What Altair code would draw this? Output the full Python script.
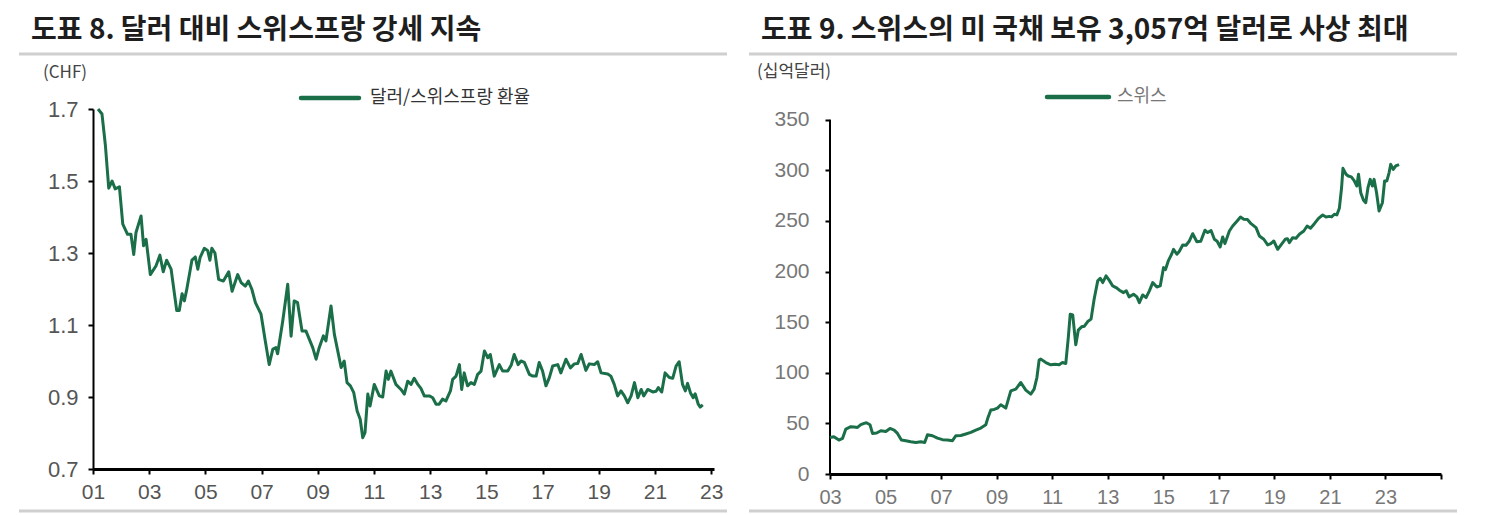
import altair as alt
import pandas as pd

# ---------------- data ----------------
chf_year = [2001.18, 2001.32, 2001.44, 2001.56, 2001.68, 2001.79, 2001.94, 2002.06, 2002.23, 2002.35,
            2002.45, 2002.53, 2002.71, 2002.80, 2002.89, 2003.04, 2003.24, 2003.38, 2003.50, 2003.62,
            2003.78, 2003.98, 2004.07, 2004.17, 2004.25, 2004.33, 2004.52, 2004.64, 2004.73, 2004.81,
            2004.96, 2005.08, 2005.16, 2005.23, 2005.34, 2005.47, 2005.64, 2005.83, 2005.95, 2006.15,
            2006.27, 2006.42, 2006.53, 2006.65, 2006.78, 2006.98, 2007.13, 2007.27, 2007.40, 2007.51,
            2007.57, 2007.75, 2007.93, 2008.05, 2008.16, 2008.28, 2008.44, 2008.58, 2008.70, 2008.82,
            2008.94, 2009.05, 2009.20, 2009.29, 2009.47, 2009.59, 2009.71, 2009.83, 2009.94, 2010.04,
            2010.16, 2010.28, 2010.40, 2010.51, 2010.60, 2010.68, 2010.78, 2010.86, 2011.01, 2011.19,
            2011.31, 2011.43, 2011.51, 2011.60, 2011.78, 2011.96, 2012.08, 2012.20, 2012.32, 2012.43,
            2012.56, 2012.67, 2012.79, 2012.97, 2013.09, 2013.21, 2013.32, 2013.44, 2013.56, 2013.72,
            2013.80, 2013.92, 2014.04, 2014.12, 2014.21, 2014.33, 2014.45, 2014.57, 2014.69, 2014.81,
            2014.93, 2015.05, 2015.14, 2015.28, 2015.46, 2015.58, 2015.76, 2015.88, 2015.99, 2016.13,
            2016.23, 2016.35, 2016.53, 2016.65, 2016.77, 2016.88, 2017.00, 2017.12, 2017.24, 2017.36,
            2017.54, 2017.65, 2017.83, 2017.99, 2018.13, 2018.25, 2018.37, 2018.48, 2018.54, 2018.66,
            2018.84, 2018.96, 2019.08, 2019.32, 2019.43, 2019.55, 2019.67, 2019.79, 2019.91, 2020.03,
            2020.15, 2020.27, 2020.39, 2020.51, 2020.60, 2020.74, 2020.92, 2021.04, 2021.12, 2021.24,
            2021.36, 2021.51, 2021.63, 2021.75, 2021.86, 2021.98, 2022.08, 2022.16, 2022.26, 2022.36,
            2022.43, 2022.54, 2022.61, 2022.70]
chf_rate = [1.700, 1.686, 1.600, 1.480, 1.500, 1.478, 1.484, 1.380, 1.352, 1.352,
            1.296, 1.357, 1.403, 1.320, 1.338, 1.240, 1.264, 1.294, 1.248, 1.280,
            1.255, 1.140, 1.140, 1.187, 1.167, 1.196, 1.280, 1.289, 1.255, 1.287,
            1.313, 1.307, 1.280, 1.313, 1.300, 1.227, 1.222, 1.248, 1.194, 1.240,
            1.218, 1.208, 1.222, 1.200, 1.162, 1.130, 1.056, 0.990, 1.033, 1.037,
            1.020, 1.110, 1.213, 1.069, 1.167, 1.162, 1.083, 1.083, 1.060, 1.037,
            1.005, 1.037, 1.070, 1.056, 1.153, 1.074, 1.028, 0.982, 1.000, 0.940,
            0.931, 0.912, 0.861, 0.838, 0.787, 0.801, 0.908, 0.875, 0.935, 0.903,
            0.900, 0.972, 0.949, 0.972, 0.935, 0.921, 0.908, 0.944, 0.935, 0.952,
            0.935, 0.924, 0.903, 0.903, 0.898, 0.880, 0.880, 0.894, 0.889, 0.917,
            0.949, 0.958, 0.990, 0.921, 0.967, 0.931, 0.940, 0.935, 0.963, 0.972,
            1.028, 1.009, 1.018, 0.958, 0.990, 0.972, 0.972, 0.988, 1.018, 0.990,
            1.000, 0.996, 0.963, 0.958, 0.958, 0.996, 0.972, 0.931, 0.954, 0.986,
            0.990, 0.967, 1.005, 0.981, 0.992, 0.993, 1.018, 0.990, 0.974, 0.992,
            0.990, 0.998, 0.967, 0.964, 0.958, 0.935, 0.903, 0.917, 0.903, 0.884,
            0.903, 0.940, 0.898, 0.921, 0.903, 0.921, 0.914, 0.916, 0.926, 0.914,
            0.967, 0.954, 0.952, 0.986, 0.998, 0.935, 0.917, 0.938, 0.912, 0.898,
            0.909, 0.880, 0.872, 0.878]

ust_year = [2003.00, 2003.14, 2003.32, 2003.45, 2003.57, 2003.75, 2003.87, 2003.99, 2004.11, 2004.23,
            2004.31, 2004.44, 2004.53, 2004.68, 2004.83, 2005.01, 2005.16, 2005.31, 2005.43, 2005.57,
            2005.73, 2005.91, 2006.09, 2006.27, 2006.41, 2006.51, 2006.69, 2006.87, 2007.05, 2007.23,
            2007.41, 2007.53, 2007.71, 2007.89, 2008.07, 2008.25, 2008.43, 2008.61, 2008.69, 2008.79,
            2008.91, 2009.03, 2009.15, 2009.33, 2009.51, 2009.69, 2009.87, 2010.05, 2010.23, 2010.35,
            2010.45, 2010.53, 2010.59, 2010.77, 2010.95, 2011.10, 2011.25, 2011.37, 2011.49, 2011.58,
            2011.65, 2011.74, 2011.85, 2011.94, 2012.06, 2012.16, 2012.28, 2012.40, 2012.51, 2012.64,
            2012.73, 2012.82, 2012.94, 2013.05, 2013.18, 2013.30, 2013.42, 2013.57, 2013.67, 2013.77,
            2013.93, 2014.05, 2014.14, 2014.26, 2014.38, 2014.50, 2014.62, 2014.77, 2014.89, 2015.01,
            2015.08, 2015.18, 2015.30, 2015.37, 2015.49, 2015.58, 2015.70, 2015.82, 2015.94, 2016.06,
            2016.21, 2016.35, 2016.50, 2016.60, 2016.72, 2016.84, 2016.94, 2017.05, 2017.14, 2017.22,
            2017.38, 2017.50, 2017.66, 2017.78, 2017.90, 2018.03, 2018.16, 2018.34, 2018.46, 2018.62,
            2018.76, 2018.87, 2018.98, 2019.12, 2019.24, 2019.39, 2019.47, 2019.54, 2019.66, 2019.78,
            2019.90, 2020.06, 2020.18, 2020.30, 2020.44, 2020.59, 2020.74, 2020.86, 2020.98, 2021.06,
            2021.16, 2021.25, 2021.34, 2021.42, 2021.47, 2021.58, 2021.66, 2021.77, 2021.88, 2021.97,
            2022.03, 2022.11, 2022.21, 2022.29, 2022.37, 2022.45, 2022.53, 2022.59, 2022.68, 2022.77,
            2022.89, 2022.97, 2023.05, 2023.13, 2023.19, 2023.28, 2023.37, 2023.49]
ust_hold = [36.1, 36.8, 33.5, 35.1, 44.4, 46.7, 46.5, 46.0, 48.7, 50.0,
            50.6, 48.7, 40.1, 40.5, 42.7, 42.0, 45.0, 43.4, 40.1, 33.5,
            32.9, 31.9, 31.2, 31.8, 31.2, 38.8, 37.8, 35.5, 33.9, 33.5,
            32.9, 37.8, 38.0, 39.5, 41.1, 43.4, 45.4, 48.7, 55.9, 63.2,
            63.8, 65.1, 68.4, 65.1, 82.2, 83.9, 90.4, 82.9, 78.9, 83.9,
            95.3, 112.5, 113.5, 110.1, 107.9, 108.5, 107.9, 110.1, 109.2, 134.8,
            157.9, 157.2, 127.6, 142.1, 145.4, 146.0, 150.6, 153.0, 172.7, 190.8,
            193.4, 189.1, 195.7, 191.5, 185.8, 184.2, 181.6, 179.2, 181.0, 175.0,
            177.6, 175.0, 169.3, 176.9, 174.3, 180.9, 189.1, 184.8, 185.8, 203.9,
            202.0, 210.5, 217.1, 222.0, 217.1, 220.0, 226.3, 226.0, 230.2, 237.4,
            229.5, 230.0, 240.8, 238.5, 240.5, 231.9, 230.0, 224.3, 234.2, 227.6,
            240.1, 245.0, 250.0, 253.9, 251.7, 251.5, 247.3, 243.4, 235.2, 231.9,
            226.3, 227.5, 230.2, 222.0, 226.3, 231.9, 232.5, 228.6, 233.5, 233.0,
            236.8, 240.1, 245.0, 242.8, 247.3, 252.6, 255.9, 253.9, 254.5, 254.0,
            256.6, 256.0, 262.5, 282.8, 302.0, 296.1, 294.4, 293.5, 289.5, 284.5,
            296.1, 277.9, 270.4, 268.0, 282.8, 291.1, 284.5, 291.1, 277.9, 259.8,
            268.0, 289.5, 289.5, 297.6, 305.9, 301.0, 304.3, 305.7]

title_left = "도표 8. 달러 대비 스위스프랑 강세 지속"
title_right = "도표 9. 스위스의 미 국채 보유 3,057억 달러로 사상 최대"
unit_left = "(CHF)"
unit_right = "(십억달러)"
legend_left = "달러/스위스프랑 환율"
legend_right = "스위스"
left_ticks_y = [0.7, 0.9, 1.1, 1.3, 1.5, 1.7]
right_ticks_y = [0, 50, 100, 150, 200, 250, 300, 350]
left_ticks_x = list(range(2001, 2024, 2))
right_ticks_x = list(range(2003, 2026, 2))

# ---------------- style ----------------
GREEN = "#1b6f48"
KR = "Noto Sans CJK KR"
NUM = "Liberation Sans Narrow, Liberation Sans, Arial"

df_l = pd.DataFrame({"year": chf_year, "value": chf_rate})
df_r = pd.DataFrame({"year": ust_year, "value": ust_hold})
one = pd.DataFrame({"a": [0]})


def text(s, x, y, size, color, weight="normal", font=KR):
    return alt.Chart(one).mark_text(
        text=s, align="left", baseline="middle", font=font, fontSize=size,
        color=color, fontWeight=weight
    ).encode(x=alt.value(x), y=alt.value(y))


def hrule(x1, x2, y, color, width, cap="butt"):
    return alt.Chart(one).mark_rule(color=color, strokeWidth=width, strokeCap=cap).encode(
        x=alt.value(x1), x2=alt.value(x2), y=alt.value(y)
    )


# ---------------- left panel ----------------
LW, LH = 621, 360
x_axis_l = alt.Axis(values=left_ticks_x, labelExpr="substring(toString(datum.value), 2)",
                    labelFlush=False, labelOverlap=False,
                    domainColor="black", domainWidth=3, tickColor="black", tickWidth=2,
                    tickSize=5, labelPadding=7, labelFontSize=21, labelColor="#555",
                    labelFont=NUM, grid=False, title=None)
y_axis_l = alt.Axis(values=left_ticks_y, format=".1f", domainColor="black", domainWidth=2,
                    labelFlush=False, labelOverlap=False,
                    tickColor="black", tickWidth=2, tickSize=5, labelPadding=10,
                    labelFontSize=22, labelColor="#555", labelFont=NUM, grid=False, title=None)

line_l = alt.Chart(df_l).mark_line(color=GREEN, strokeWidth=3, strokeJoin="round").encode(
    x=alt.X("year:Q", scale=alt.Scale(domain=[2001, 2023.1], nice=False, zero=False), axis=x_axis_l),
    y=alt.Y("value:Q", scale=alt.Scale(domain=[0.7, 1.7], nice=False, zero=False), axis=y_axis_l),
)

left = alt.layer(
    hrule(-84, -83, -100, "white", 1),
    hrule(-74, 634, -55, "#cfcfcf", 3),
    hrule(-74, 634, 402, "#cfcfcf", 3),
    text(title_left, -62, -78, 28, "#1e1e1e", "bold"),
    text(unit_left, -50, -36, 17, "#444"),
    hrule(208, 266, -11, GREEN, 4.5, "round"),
    text(legend_left, 277, -11, 18, "#333"),
    line_l,
).properties(width=LW, height=LH)

# ---------------- right panel ----------------
RW, RH = 611, 365
x_axis_r = alt.Axis(values=right_ticks_x,
                    labelExpr="datum.value == 2025 ? '' : substring(toString(datum.value), 2)",
                    labelFlush=False, labelOverlap=False,
                    domainColor="black", domainWidth=3, tickColor="black", tickWidth=2,
                    tickSize=5, labelPadding=8, labelFontSize=20, labelColor="#777",
                    labelFont=NUM, grid=False, title=None)
y_axis_r = alt.Axis(values=right_ticks_y, domain=False, tickColor="black", tickWidth=2,
                    labelFlush=False, labelOverlap=False,
                    tickSize=5, labelPadding=16, labelFontSize=21, labelColor="#777",
                    labelFont=NUM, grid=False, title=None)

yscale_r = alt.Scale(domain=[0, 360.6], nice=False, zero=True)
line_r = alt.Chart(df_r).mark_line(color=GREEN, strokeWidth=3, strokeJoin="round").encode(
    x=alt.X("year:Q", scale=alt.Scale(domain=[2003, 2025], nice=False, zero=False), axis=x_axis_r),
    y=alt.Y("value:Q", scale=yscale_r, axis=y_axis_r),
)
yline_r = alt.Chart(pd.DataFrame({"y1": [0], "y2": [350]})).mark_rule(
    color="black", strokeWidth=2).encode(
    x=alt.value(0), y=alt.Y("y1:Q", scale=yscale_r), y2="y2:Q")

right = alt.layer(
    hrule(-81, 627, -55, "#cfcfcf", 3),
    hrule(-81, 627, 402, "#cfcfcf", 3),
    text(title_right, -69, -78, 28, "#1e1e1e", "bold"),
    text(unit_right, -73, -37, 17, "#444"),
    hrule(217, 279, -12, GREEN, 4.5, "round"),
    text(legend_right, 287, -12, 18, "#777"),
    yline_r,
    line_r,
).properties(width=RW, height=RH)

chart = alt.hconcat(left, right, spacing=116, bounds="flush").configure_view(
    stroke=None
).properties(padding=0, background="white")

chart.save("out.html", embed_options={"renderer": "svg", "actions": False})
